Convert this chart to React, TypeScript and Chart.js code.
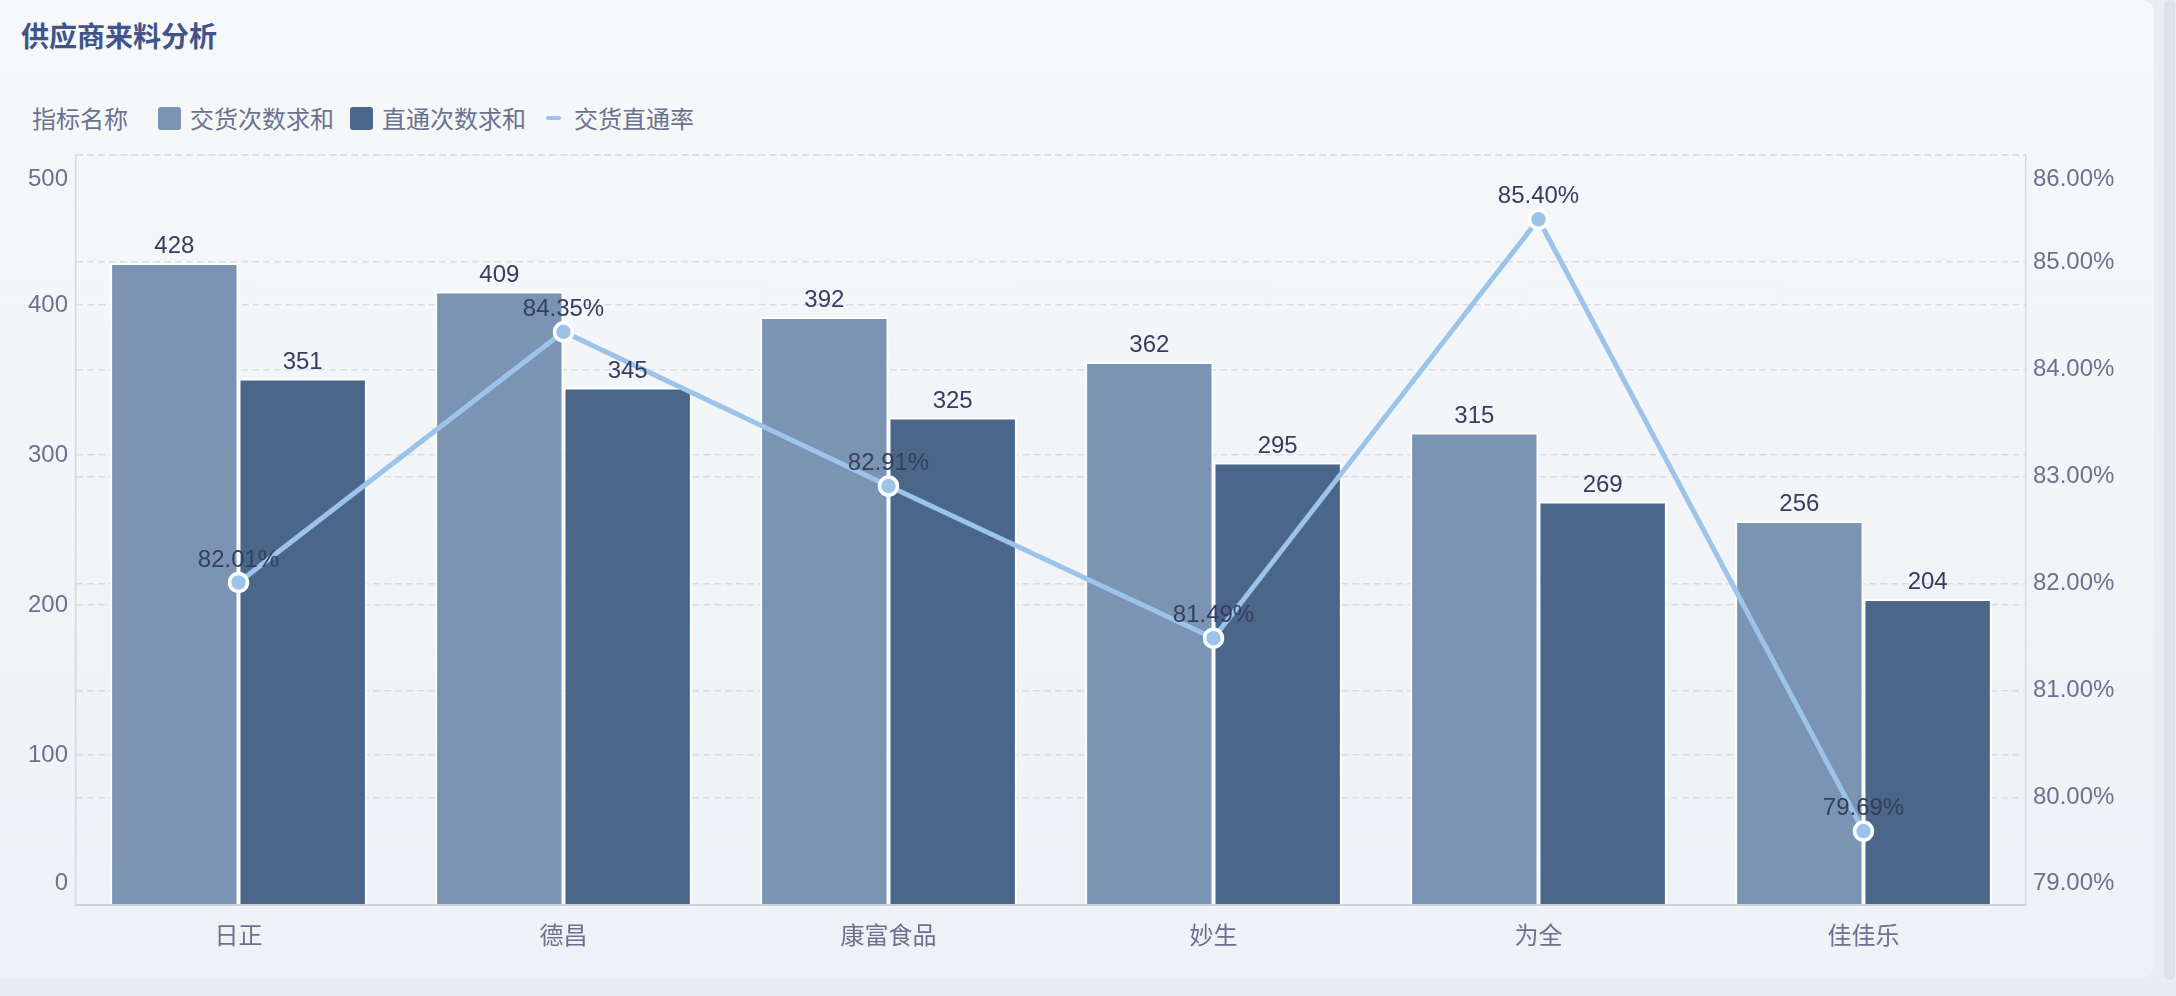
import { useEffect, useRef } from "react";
import { Chart, registerables } from "chart.js";

Chart.register(...registerables);

// data
const suppliers = ["日正", "德昌", "康富食品", "妙生", "为全", "佳佳乐"];
const deliveryCounts = [428, 409, 392, 362, 315, 256];
const passCounts = [351, 345, 325, 295, 269, 204];
const passRates = [82.01, 84.35, 82.91, 81.49, 85.4, 79.69];
const countTicks = [0, 100, 200, 300, 400, 500];
const rateTicks = [79, 80, 81, 82, 83, 84, 85, 86];

const FONT = "'Liberation Sans', 'Noto Sans CJK SC', sans-serif";
const CJK = "'Noto Sans CJK SC', sans-serif";
const LIGHT_BAR = "#7b94b3";
const DARK_BAR = "#4a6689";
const LINE = "#9cc3ea";
const TICK_COLOR = "#6b7290";
const LABEL_COLOR = "#363e60";
const GRID = "#d9dde5";

const fmtRate = (v: number) => v.toFixed(2) + "%";

// axis labels drawn by hand so the end labels can sit inside the plot
const tickLabels = {
  id: "tickLabels",
  afterDraw(chart: any) {
    const { ctx, chartArea } = chart;
    const { top, bottom, left, right } = chartArea;
    ctx.save();
    ctx.font = `24px ${FONT}`;
    ctx.fillStyle = TICK_COLOR;
    ctx.textBaseline = "middle";
    const draw = (id: string, x: number, align: string, fmt: (v: number) => string) => {
      const scale = chart.scales[id];
      ctx.textAlign = align;
      scale.ticks.forEach((t: any) => {
        let y = scale.getPixelForValue(t.value);
        if (y <= top + 1) y = top + 24;
        else if (y >= bottom - 1) y = bottom - 22;
        ctx.fillText(fmt(t.value), x, y);
      });
    };
    draw("y", left - 8, "right", (v) => String(v));
    draw("y1", right + 7, "left", fmtRate);
    ctx.restore();
  },
};

const valueLabels = {
  id: "valueLabels",
  afterDatasetsDraw(chart: any) {
    const { ctx } = chart;
    ctx.save();
    ctx.font = `24px ${FONT}`;
    ctx.fillStyle = LABEL_COLOR;
    ctx.textAlign = "center";
    ctx.textBaseline = "alphabetic";
    chart.data.datasets.forEach((ds: any, i: number) => {
      const meta = chart.getDatasetMeta(i);
      meta.data.forEach((el: any, j: number) => {
        const v = ds.data[j];
        if (meta.type === "bar") ctx.fillText(String(v), el.x, el.y - 10);
        else ctx.fillText(fmtRate(v), el.x, el.y - 16);
      });
    });
    ctx.restore();
  },
};

export default function App() {
  const chartRef = useRef<HTMLCanvasElement | null>(null);

  useEffect(() => {
    if (!chartRef.current) return;

    const chart = new Chart(chartRef.current, {
      type: "bar",
      data: {
        labels: suppliers,
        datasets: [
          {
            label: "交货次数求和",
            data: deliveryCounts,
            backgroundColor: LIGHT_BAR,
            borderColor: "#ffffff",
            borderWidth: 2,
            yAxisID: "y",
            order: 1,
          },
          {
            label: "直通次数求和",
            data: passCounts,
            backgroundColor: DARK_BAR,
            borderColor: "#ffffff",
            borderWidth: 2,
            yAxisID: "y",
            order: 1,
          },
          {
            type: "line",
            label: "交货直通率",
            data: passRates,
            yAxisID: "y1",
            order: 0,
            borderColor: LINE,
            borderWidth: 5,
            pointRadius: 9,
            pointBorderWidth: 3.5,
            pointBackgroundColor: LINE,
            pointBorderColor: "#ffffff",
            tension: 0,
          } as any,
        ],
      },
      options: {
        responsive: false,
        animation: false,
        layout: { padding: { top: 155, left: 0, right: 0, bottom: 0 } },
        datasets: {
          bar: { categoryPercentage: 0.79, barPercentage: 1 },
        },
        plugins: {
          legend: { display: false },
          tooltip: { enabled: false },
        },
        scales: {
          x: {
            grid: { display: false },
            border: { display: true, color: "#cdd2da", width: 2 },
            ticks: {
              font: { size: 24, family: FONT },
              color: TICK_COLOR,
              padding: 10,
            },
            afterFit(scale: any) {
              scale.height = 73;
            },
          },
          y: {
            position: "left",
            min: countTicks[0],
            max: countTicks[countTicks.length - 1],
            ticks: { display: false, stepSize: countTicks[1] - countTicks[0] },
            grid: { color: GRID, lineWidth: 1.5, drawTicks: false },
            border: { display: true, color: "#d4d8df", width: 1.5, dash: [7, 4] },
            afterFit(scale: any) {
              scale.width = 76;
            },
          },
          y1: {
            position: "right",
            min: rateTicks[0],
            max: rateTicks[rateTicks.length - 1],
            ticks: { display: false, stepSize: rateTicks[1] - rateTicks[0] },
            grid: { color: GRID, lineWidth: 1.5, drawTicks: false },
            border: { display: true, color: "#d4d8df", width: 1.5, dash: [7, 4] },
            afterFit(scale: any) {
              scale.width = 128;
            },
          },
        },
      },
      plugins: [tickLabels, valueLabels],
    });

    return () => {
      chart.destroy();
    };
  }, []);

  const legendText: React.CSSProperties = {
    position: "absolute",
    top: 106,
    fontSize: 24,
    lineHeight: "24px",
    color: TICK_COLOR,
    fontFamily: CJK,
    whiteSpace: "nowrap",
  };
  const box = (left: number, color: string): React.CSSProperties => ({
    position: "absolute",
    left,
    top: 107,
    width: 23,
    height: 23,
    borderRadius: 3,
    background: color,
  });

  return (
    <div style={{ position: "fixed", inset: 0, background: "#e9edf2", overflow: "hidden" }}>
      <div
        style={{
          position: "absolute",
          left: 0,
          top: 0,
          width: 2154,
          height: 978,
          borderRadius: "0 12px 12px 0",
          background: "linear-gradient(180deg, #f6f8fa 0%, #eef1f5 100%)",
        }}
      >
        <div
          style={{
            position: "absolute",
            left: 21,
            top: 21,
            fontSize: 28,
            lineHeight: "28px",
            fontWeight: 700,
            color: "#42558a",
            fontFamily: CJK,
          }}
        >
          供应商来料分析
        </div>
        <div style={{ ...legendText, left: 32 }}>指标名称</div>
        <div style={box(158, LIGHT_BAR)} />
        <div style={{ ...legendText, left: 190 }}>交货次数求和</div>
        <div style={box(350, DARK_BAR)} />
        <div style={{ ...legendText, left: 382 }}>直通次数求和</div>
        <div
          style={{
            position: "absolute",
            left: 546,
            top: 116,
            width: 15,
            height: 4,
            borderRadius: 2,
            background: LINE,
          }}
        />
        <div style={{ ...legendText, left: 574 }}>交货直通率</div>
        <canvas
          ref={chartRef}
          width={2154}
          height={978}
          style={{ position: "absolute", left: 0, top: 0, width: 2154, height: 978 }}
        ></canvas>
      </div>
      <div
        style={{
          position: "absolute",
          left: 2164,
          top: 0,
          width: 11,
          height: 980,
          borderRadius: 6,
          background: "#dde2e9",
        }}
      />
    </div>
  );
}
